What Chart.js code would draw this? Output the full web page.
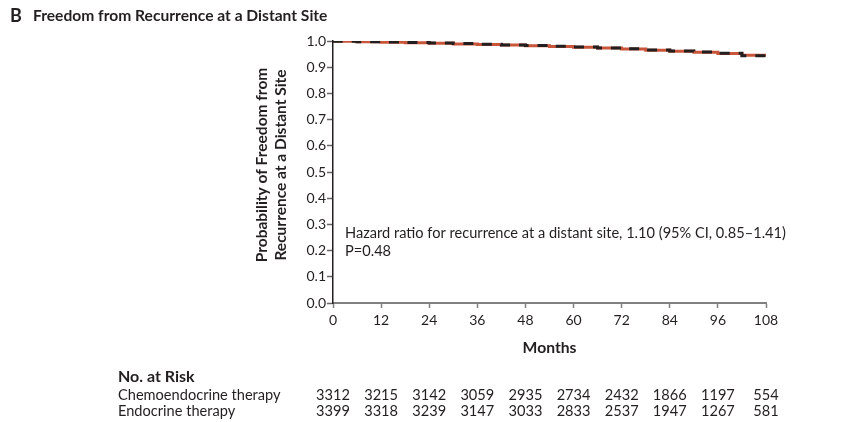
<!DOCTYPE html>
<html>
<head>
<meta charset="utf-8">
<script src="https://cdn.jsdelivr.net/npm/chart.js@4.4.1/dist/chart.umd.min.js"></script>
<style>
  body { margin: 0; background: #fff; }
  canvas { display: block; }
</style>
</head>
<body>
<canvas id="distantChart" width="850" height="422"></canvas>
<script type="text/javascript">
var months = [0, 6, 12, 18, 24, 30, 36, 42, 48, 54, 60, 66, 72, 78, 84, 90, 96, 102, 108];
var chemoValues = [1.0, 0.999, 0.997, 0.995, 0.993, 0.991, 0.989, 0.987, 0.985, 0.982, 0.979, 0.976, 0.973, 0.969, 0.965, 0.961, 0.957, 0.952, 0.946];
var endoValues = [1.0, 0.999, 0.997, 0.996, 0.994, 0.992, 0.990, 0.988, 0.985, 0.983, 0.980, 0.977, 0.973, 0.970, 0.966, 0.962, 0.958, 0.953, 0.944];

var riskMonths = [0, 12, 24, 36, 48, 60, 72, 84, 96, 108];
var chemoAtRisk = [3312, 3215, 3142, 3059, 2935, 2734, 2432, 1866, 1197, 554];
var endoAtRisk = [3399, 3318, 3239, 3147, 3033, 2833, 2537, 1947, 1267, 581];

var FONT = "Lato, 'Open Sans', sans-serif";
var INK = "#231f20";

function pts(xs, ys) {
  return xs.map(function (x, i) { return { x: x, y: ys[i] }; });
}

var decorations = {
  id: "decorations",
  afterDraw: function (chart) {
    var ctx = chart.ctx;
    var xs = chart.scales.x;
    ctx.save();
    ctx.fillStyle = INK;
    ctx.textBaseline = "middle";

    // panel title
    ctx.textAlign = "left";
    ctx.font = "bold 18px " + FONT;
    ctx.fillText("B", 10, 16);
    ctx.font = "bold 15.6px " + FONT;
    ctx.fillText("Freedom from Recurrence at a Distant Site", 33, 16);

    // y axis title, two lines
    ctx.save();
    ctx.translate(262, 165);
    ctx.rotate(-Math.PI / 2);
    ctx.textAlign = "center";
    ctx.font = "bold 15.5px " + FONT;
    ctx.fillText("Probability of Freedom from", 0, 0);
    ctx.fillText("Recurrence at a Distant Site", 0, 19);
    ctx.restore();

    // hazard ratio note
    ctx.textAlign = "left";
    ctx.font = "14.6px " + FONT;
    ctx.fillText("Hazard ratio for recurrence at a distant site, 1.10 (95% CI, 0.85\u20131.41)", 345, 233);
    ctx.fillText("P=0.48", 345, 251);

    // x axis title
    ctx.textAlign = "center";
    ctx.font = "bold 15.7px " + FONT;
    ctx.fillText("Months", (chart.chartArea.left + chart.chartArea.right) / 2, 348);

    // number at risk
    ctx.textAlign = "left";
    ctx.font = "bold 16px " + FONT;
    ctx.fillText("No. at Risk", 118, 377);
    ctx.font = "14.6px " + FONT;
    ctx.fillText("Chemoendocrine therapy", 118, 395);
    ctx.fillText("Endocrine therapy", 118, 411);
    ctx.textAlign = "center";
    riskMonths.forEach(function (m, i) {
      var px = xs.getPixelForValue(m);
      ctx.fillText(String(chemoAtRisk[i]), px, 395);
      ctx.fillText(String(endoAtRisk[i]), px, 411);
    });
    ctx.restore();
  }
};

var chart = new Chart("distantChart", {
  type: "line",
  data: {
    datasets: [
      {
        label: "Chemoendocrine therapy",
        data: pts(months, chemoValues),
        borderColor: "#c9553a",
        borderWidth: 3,
        stepped: "after",
        pointRadius: 0,
        fill: false,
        order: 2
      },
      {
        label: "Endocrine therapy",
        data: pts(months, endoValues),
        borderColor: INK,
        borderWidth: 3,
        borderDash: [10, 9],
        stepped: "after",
        pointRadius: 0,
        fill: false,
        order: 1
      }
    ]
  },
  options: {
    responsive: false,
    animation: false,
    layout: { padding: { top: 41, right: 84, bottom: 0, left: 0 } },
    plugins: {
      legend: { display: false },
      tooltip: { enabled: false }
    },
    scales: {
      x: {
        type: "linear",
        min: 0,
        max: 108,
        afterFit: function (scale) { scale.height = 119; },
        border: { color: "#808080", width: 2 },
        grid: { drawOnChartArea: false, tickLength: 5, tickColor: "#808080", tickWidth: 1.5 },
        ticks: { stepSize: 12, padding: 4, color: INK, font: { family: FONT, size: 14 } }
      },
      y: {
        min: 0,
        max: 1,
        afterFit: function (scale) { scale.width = 333; },
        border: { color: INK, width: 1.5 },
        grid: { drawOnChartArea: false, tickLength: 6, tickColor: "#666", tickWidth: 1.5 },
        ticks: {
          stepSize: 0.1,
          padding: 1,
          color: INK,
          font: { family: FONT, size: 14 },
          callback: function (v) { return v.toFixed(1); }
        }
      }
    }
  },
  plugins: [decorations]
});
</script>
</body>
</html>
